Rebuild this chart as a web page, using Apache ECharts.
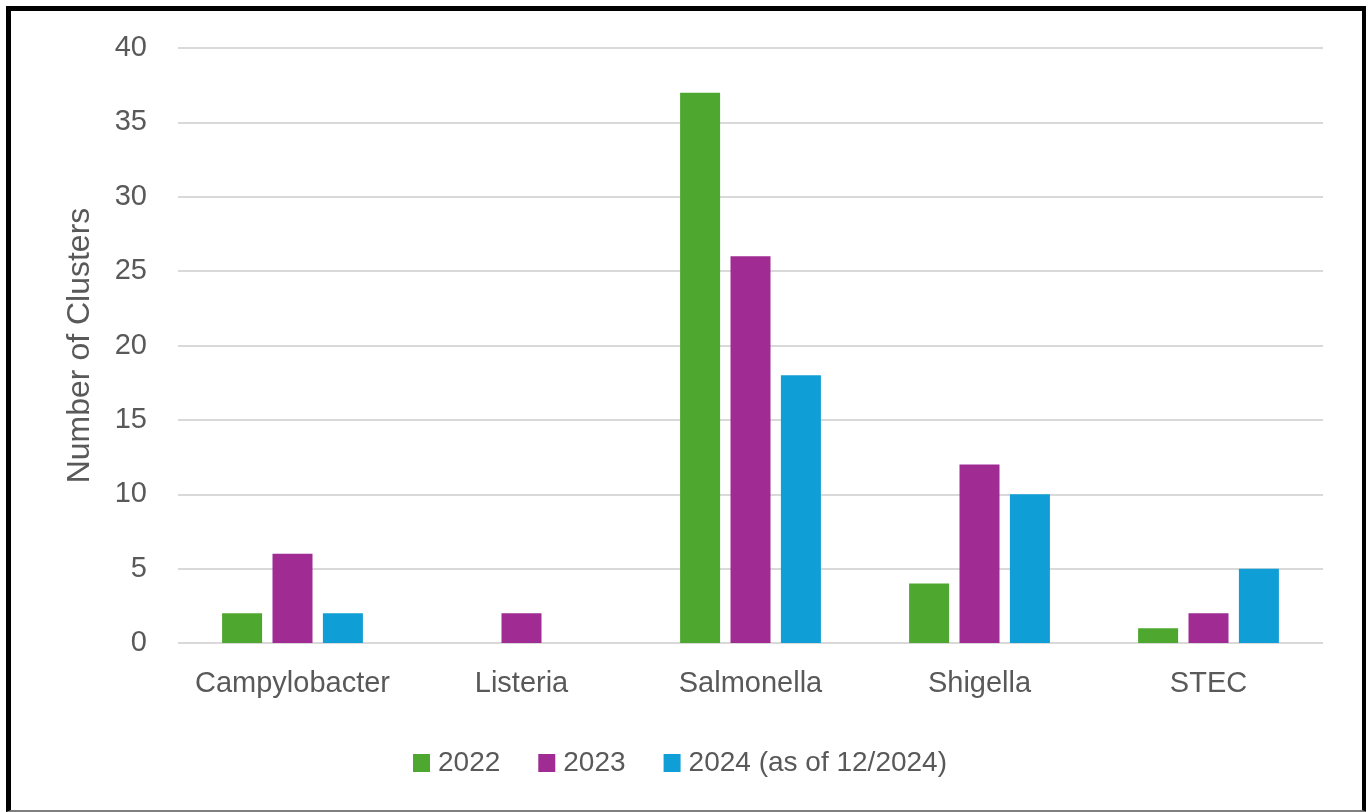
<!DOCTYPE html>
<html><head><meta charset="utf-8">
<script src="https://cdn.jsdelivr.net/npm/echarts@6/dist/echarts.min.js"></script>
<style>
html,body{margin:0;padding:0;background:#fff;}
#frame{position:absolute;left:6px;top:6px;width:1351px;height:799px;border-left:5px solid #000;border-top:5px solid #000;border-right:5px solid #000;border-bottom:2px solid #808080;}
#c{position:absolute;left:0;top:0;width:1366px;height:812px;}
</style></head>
<body>
<div id="frame"></div>
<div id="c"></div>
<script>
const categories = ['Campylobacter','Listeria','Salmonella','Shigella','STEC'];
const seriesNames = ['2022','2023','2024 (as of 12/2024)'];
const values2022 = [2, 0, 37, 4, 1];
const values2023 = [6, 2, 26, 12, 2];
const values2024 = [2, 0, 18, 10, 5];
const colors = ['#4EA72E','#A02B93','#0F9ED5'];
const FONT = 'Liberation Sans, Arial, sans-serif';
const chart = echarts.init(document.getElementById('c'));
const mk = (name, data, i) => ({
  name, type:'bar', data, barWidth:40, barGap:'26%',
  itemStyle:{color:colors[i], borderWidth:0},
  emphasis:{disabled:true}
});
chart.setOption({
  animation:false,
  grid:{left:178, right:43, top:48, bottom:169},
  legend:{top:744, left:408, itemWidth:17, itemHeight:18, itemGap:38, icon:'rect',
    textStyle:{fontFamily:FONT, fontSize:28, color:'#595959', padding:[0,0,0,3]},
    data:seriesNames},
  xAxis:{type:'category', data:categories,
    axisLine:{show:false}, axisTick:{show:false},
    axisLabel:{interval:0, margin:26, fontFamily:FONT, fontSize:29, color:'#595959'}},
  yAxis:{type:'value', min:0, max:40, interval:5,
    name:'Number of Clusters', nameLocation:'middle', nameGap:82,
    nameTextStyle:{fontFamily:FONT, fontSize:32, color:'#595959'},
    axisLine:{show:false}, axisTick:{show:false},
    axisLabel:{margin:31, fontFamily:FONT, fontSize:29, color:'#595959'},
    splitLine:{lineStyle:{color:'#d9d9d9', width:2}}},
  series:[mk(seriesNames[0], values2022, 0), mk(seriesNames[1], values2023, 1), mk(seriesNames[2], values2024, 2)]
});
</script>
</body></html>
